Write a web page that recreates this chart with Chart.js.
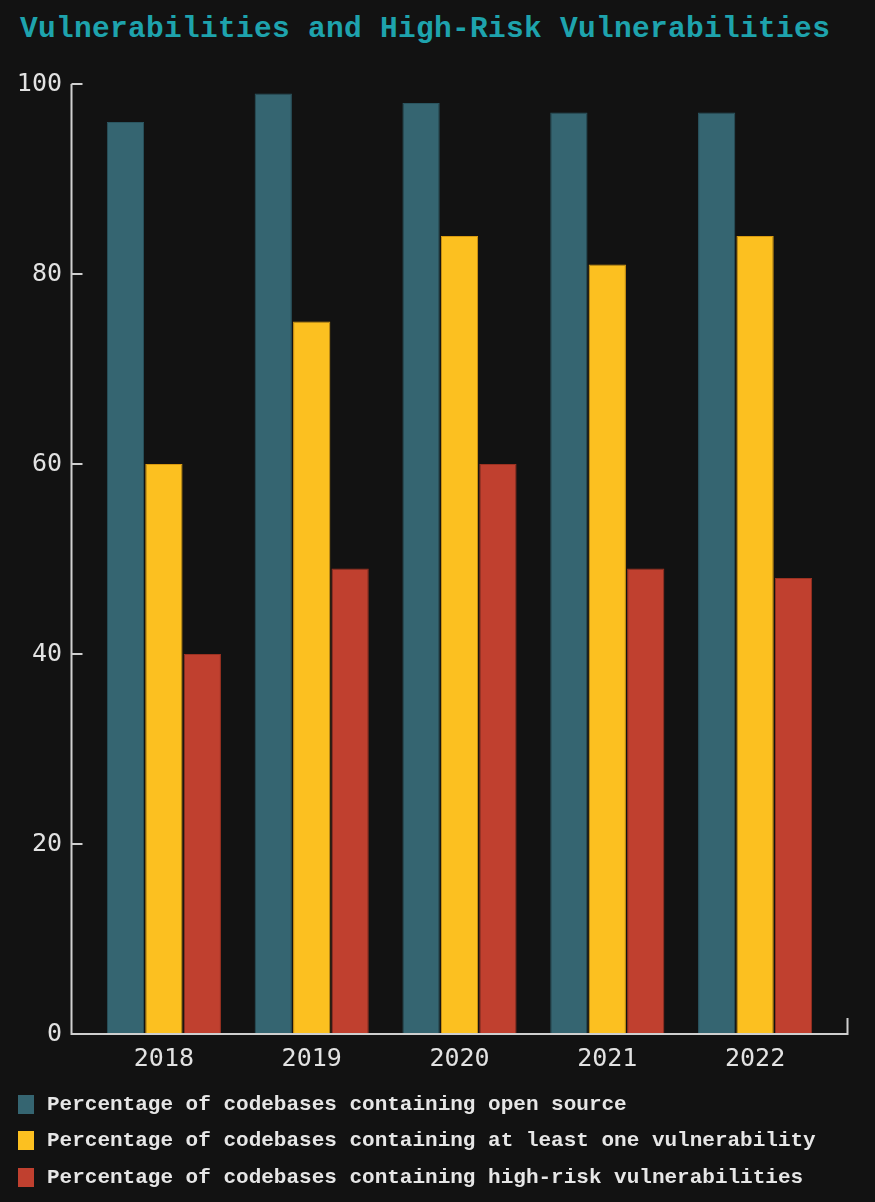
<!DOCTYPE html>
<html>
<head>
<meta charset="utf-8">
<script src="https://cdn.jsdelivr.net/npm/chart.js@4.4.1/dist/chart.umd.min.js"></script>
<style>
  html, body { margin: 0; padding: 0; background: #121212; }
  body { width: 875px; height: 1202px; position: relative; overflow: hidden; }
  #title {
    position: absolute; left: 20px; top: 12px;
    font-family: "Liberation Mono", "DejaVu Sans Mono", monospace;
    font-weight: bold; font-size: 29.5px; color: #1ea3ad; letter-spacing: 0.3px;
    white-space: nowrap;
  }
  #wrap { position: absolute; left: 0; top: 0; width: 875px; height: 1090px; }
  #legend { position: absolute; left: 18px; top: 1086px; }
  .item { display: flex; align-items: center; height: 36.5px;
    font-family: "Liberation Mono", "DejaVu Sans Mono", monospace; font-weight: bold;
    font-size: 21px; color: #e6e6e6; white-space: nowrap; }
  .sw { width: 16px; height: 19px; margin-right: 13px; }
</style>
</head>
<body>
<div id="title">Vulnerabilities and High-Risk Vulnerabilities</div>
<div id="wrap"><canvas id="c" width="875" height="1090"></canvas></div>
<div id="legend"></div>
<script>
const categories = ["2018", "2019", "2020", "2021", "2022"];
const seriesNames = [
  "Percentage of codebases containing open source",
  "Percentage of codebases containing at least one vulnerability",
  "Percentage of codebases containing high-risk vulnerabilities"
];
const openSource = [96, 99, 98, 97, 97];
const atLeastOne = [60, 75, 84, 81, 84];
const highRisk = [40, 49, 60, 49, 48];
const yTicks = [0, 20, 40, 60, 80, 100];
const colors = ["#356571", "#fcc020", "#c0402f"];
const borders = ["#2a5560", "#d99a10", "#9c3222"];

const axisPlugin = {
  id: 'axisPlugin',
  afterDatasetsDraw(chart) {
    const ctx = chart.ctx;
    const ys = chart.scales.y;
    const a = chart.chartArea;
    const x0 = a.left - 18.5;
    const x1 = a.right + 18.5;
    const yb = ys.getPixelForValue(0);
    const yt = ys.getPixelForValue(100);
    ctx.save();
    ctx.strokeStyle = '#cfcfcf';
    ctx.lineWidth = 2;
    ctx.beginPath();
    ctx.moveTo(x0, yt);
    ctx.lineTo(x0, yb);
    ctx.lineTo(x1, yb);
    ctx.lineTo(x1, yb - 16);
    ctx.stroke();
    yTicks.forEach(v => {
      if (v === 0) return;
      const py = ys.getPixelForValue(v);
      ctx.beginPath();
      ctx.moveTo(x0, py);
      ctx.lineTo(x0 + 11, py);
      ctx.stroke();
    });
    ctx.restore();
  }
};

const data = {
  labels: categories,
  datasets: [openSource, atLeastOne, highRisk].map((d, i) => ({
    label: seriesNames[i],
    data: d,
    backgroundColor: colors[i],
    borderColor: borders[i],
    borderWidth: 1,
    categoryPercentage: 0.78,
    barPercentage: 0.97
  }))
};

new Chart(document.getElementById('c'), {
  type: 'bar',
  data,
  plugins: [axisPlugin],
  options: {
    responsive: false,
    animation: false,
    layout: { padding: { top: 84, right: 46, left: 0, bottom: 0 } },
    plugins: { legend: { display: false }, title: { display: false }, tooltip: { enabled: false } },
    scales: {
      x: {
        grid: { display: false, drawTicks: false },
        border: { display: false },
        ticks: { color: '#e2e2e2', font: { family: 'DejaVu Sans Mono', size: 25 }, padding: 10 },
        afterFit(s) { s.height = 56; }
      },
      y: {
        min: 0, max: 100,
        afterBuildTicks(s) { s.ticks = yTicks.map(v => ({ value: v })); },
        grid: { display: false, drawTicks: false },
        border: { display: false },
        ticks: { color: '#e2e2e2', font: { family: 'DejaVu Sans Mono', size: 25 }, padding: 28 },
        afterFit(s) { s.width = 90; }
      }
    }
  }
});

const lg = document.getElementById('legend');
seriesNames.forEach((n, i) => {
  const it = document.createElement('div');
  it.className = 'item';
  const sw = document.createElement('span');
  sw.className = 'sw';
  sw.style.background = colors[i];
  it.appendChild(sw);
  it.appendChild(document.createTextNode(n));
  lg.appendChild(it);
});
</script>
</body>
</html>
